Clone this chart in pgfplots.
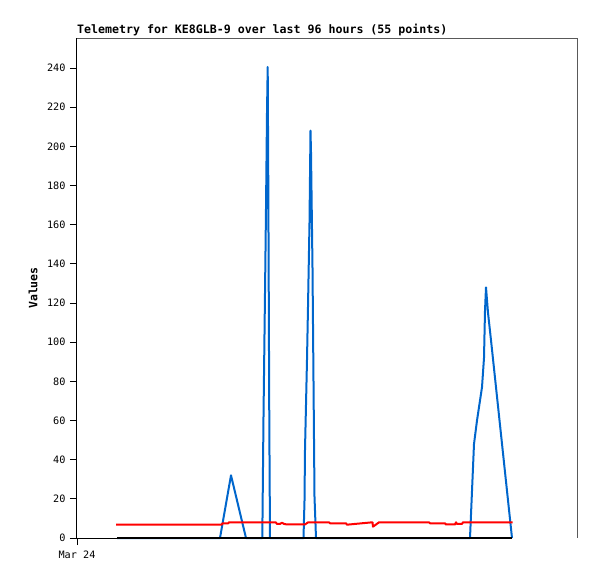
\documentclass[border=0pt]{standalone}
\usepackage{fontspec}
\setmainfont{DejaVu Sans Mono}
\setmonofont{DejaVu Sans Mono}
\usepackage{pgfplots}
\pgfplotsset{compat=1.18}
\definecolor{tblue}{RGB}{0,102,204}
\begin{document}
\begin{tikzpicture}[x=1pt,y=1pt]
\begin{axis}[
  at={(0,0)}, anchor=south west,
  scale only axis, width=500pt, height=500pt,
  xmin=0, xmax=500, ymin=0, ymax=255.3,
  axis x line*=bottom, axis y line*=left,
  x axis line style={draw=none},
  y axis line style={black, line width=1pt},
  ytick={0,20,...,240},
  xtick={0}, xticklabels={Mar 24},
  tick style={black, line width=0.8pt},
  major tick length=7pt,
  tick align=outside,
  ticklabel style={font=\fontsize{10.2}{12}\selectfont},
  /pgf/number format/assume math mode=true,
  yticklabel style={xshift=-1pt},
  xticklabel style={yshift=-2pt},
  ylabel={\bfseries Values},
  ylabel style={font=\fontsize{11.5}{13}\selectfont, at={(-52pt,0.5)}, anchor=north},
  clip=false,
]
\draw[gray!70!black, line width=0.8pt] (rel axis cs:0,1) -- (rel axis cs:1,1) -- (rel axis cs:1,0);
\draw[black, line width=0.8pt] (axis cs:-7,0) -- (axis cs:40,0);
\addplot[tblue, line width=2pt, line join=round] coordinates {
(40,0) (143,0) (154,32) (169,0) (185.3,0) (186.5,62) (188,125) (189,168) (190,217) (190.7,240.5) (191.3,180) (192.3,59) (193,0)
(226.5,0) (227.5,19) (228,45) (229,68) (230,91) (231,118) (232.5,161) (233.5,208) (234,197) (235.5,138) (236.5,80) (237.5,21) (239,0)
(393,0) (395,24) (397,48) (400,60) (405,77) (407,92) (408,116) (409,128) (411,115) (414,101) (435,0)
};
\addplot[red, line width=2pt, line join=round] coordinates {
(39,6.8) (144.7,6.8) (145.5,7.5) (151.3,7.5) (152,8) (198.7,8) (200,7.2) (203,7.2) (205,7.8) (207,7.2) (210,6.9) (228,6.9) (229.7,7.5) (231,8)
(252,8) (253,7.5) (269,7.5) (270,6.8) (295,8) (295.5,8) (296,5.8) (298,6.5) (302,8) (352,8) (353,7.5) (368,7.5) (369,6.9) (378,6.9) (379,8) (380,7.2) (385,7.2) (386,8) (435.7,8)
};
\addplot[black, line width=2.4pt] coordinates {(40,0) (435,0)};
\node[anchor=base west, font=\bfseries\fontsize{11.6}{13}\selectfont, inner sep=0pt] at (rel axis cs:0,1) [yshift=4pt] {Telemetry for KE8GLB-9 over last 96 hours (55 points)};
\end{axis}
\path[use as bounding box] (-77,-41) rectangle (520,538);
\end{tikzpicture}
\end{document}
